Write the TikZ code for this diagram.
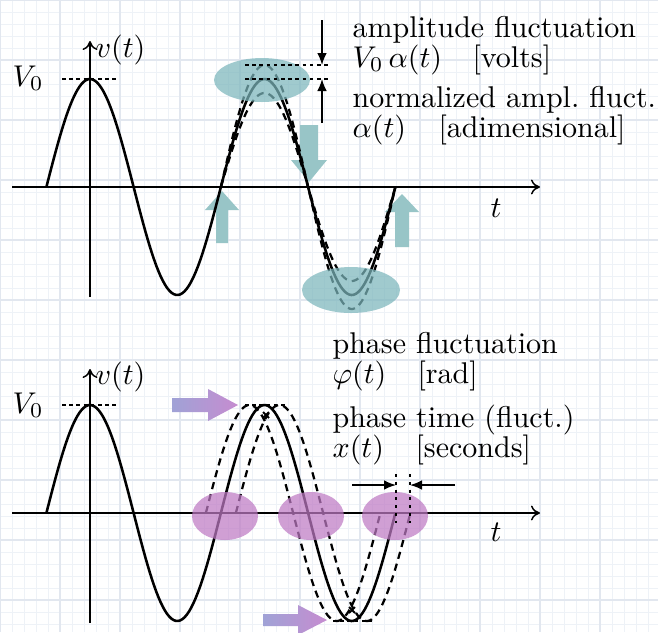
\documentclass[tikz,border=0pt]{standalone}
\usetikzlibrary{arrows.meta}
\definecolor{tealfill}{RGB}{124,182,188}
\definecolor{tealarrow}{RGB}{152,197,199}
\definecolor{purfill}{RGB}{190,122,196}
\definecolor{lavL}{RGB}{160,162,214}
\definecolor{lavR}{RGB}{198,140,208}
\definecolor{gridminor}{RGB}{238,242,247}
\definecolor{gridmajor}{RGB}{226,231,239}
\begin{document}
\begin{tikzpicture}[x=0.3333pt,y=-0.3333pt,
  axis/.style={line width=0.5pt,-{To[length=3pt,width=5pt]}},
  wave/.style={line width=0.85pt},
  dwave/.style={line width=0.75pt,dash pattern=on 2.4pt off 1.7pt},
  guide/.style={line width=0.4pt,dash pattern=on 1.2pt off 1.2pt},
  vguide/.style={line width=0.5pt,dash pattern=on 1pt off 1.6pt},
  dimarrow/.style={line width=0.5pt,-{Latex[length=4pt,width=3.2pt]}},
  lbl/.style={anchor=base west,inner sep=0pt},
  mk/.style={line width=0.6pt},
]
\useasboundingbox (0,0) rectangle (658,632);
\fill[white] (0,0) rectangle (658,632);
% grid paper
\foreach \g in {0,12,...,660} {
  \draw[gridminor,line width=0.3pt] (\g,0) -- (\g,632);
  \draw[gridminor,line width=0.3pt] (0,\g) -- (658,\g);
}
\foreach \g in {0,60,...,660} {
  \draw[gridmajor,line width=0.35pt] (\g,0) -- (\g,632);
  \draw[gridmajor,line width=0.35pt] (0,\g) -- (658,\g);
}

% ================= TOP PANEL =================
% teal block arrows
\fill[tealarrow] (216,243) -- (216,210) -- (205,210) -- (222,191) -- (239,210) -- (228,210) -- (228,243) -- cycle;
\fill[tealarrow] (300,125) -- (300,160) -- (291,160) -- (309,182) -- (327,160) -- (318,160) -- (318,125) -- cycle;
\fill[tealarrow] (395,247) -- (395,212) -- (385,212) -- (402,194) -- (419,212) -- (409,212) -- (409,247) -- cycle;

% axes
\coordinate (tx0) at (12,187);
\coordinate (tx1) at (540,187);
\coordinate (ty0) at (90,297);
\coordinate (ty1) at (90,41);
\draw[axis] (tx0) -- (tx1);
\draw[axis] (ty0) -- (ty1);
\node[lbl] (tvt) at (95,57) {$v(t)$};
\node[lbl] (tV0) at (12,86) {$V_0$};
\node[lbl] (tt) at (490,217) {$t$};
\coordinate (tg0) at (62,79);
\coordinate (tg1) at (118,79);
\draw[guide] (tg0) -- (tg1);

% waves
\draw[wave] plot[domain=46.4:395.4,samples=160] (\x,{187-108*cos(2.06304*(\x-90))});
\draw[dwave] plot[domain=220.9:395.4,samples=100] (\x,{187-122*cos(2.06304*(\x-90))});
\draw[dwave] plot[domain=220.9:395.4,samples=100] (\x,{187-94*cos(2.06304*(\x-90))});

% teal ellipses
\fill[tealfill,opacity=0.72] (262,80) ellipse [x radius=48,y radius=22];
\fill[tealfill,opacity=0.72] (351,290) ellipse [x radius=49,y radius=23];

% amplitude guides
\coordinate (ag0) at (245,65);
\coordinate (ag1) at (328,65);
\coordinate (ag2) at (245,79);
\coordinate (ag3) at (328,79);
\draw[guide] (ag0) -- (ag1);
\draw[guide] (ag2) -- (ag3);
\coordinate (ad0) at (322,20);
\coordinate (ad1) at (322,65);
\coordinate (ad2) at (322,123);
\coordinate (ad3) at (322,79);
\draw[dimarrow] (ad0) -- (ad1);
\draw[dimarrow] (ad2) -- (ad3);

% top texts
\node[lbl] (ta1) at (352,37) {amplitude fluctuation};
\node[lbl] (ta2) at (352,67) {$V_0\,\alpha(t)$};
\node[lbl] (ta3) at (472,67) {[volts]};
\node[lbl] (ta4) at (352,107) {normalized ampl.\ fluct.};
\node[lbl] (ta5) at (352,137) {$\alpha(t)$};
\node[lbl] (ta6) at (438,137) {[adimensional]};

% ================= BOTTOM PANEL =================
\coordinate (bx0) at (12,513);
\coordinate (bx1) at (540,513);
\coordinate (by0) at (90,623);
\coordinate (by1) at (90,369);
\draw[axis] (bx0) -- (bx1);
\draw[axis] (by0) -- (by1);
\node[lbl] (bvt) at (95,384) {$v(t)$};
\node[lbl] (bV0) at (12,413) {$V_0$};
\node[lbl] (bt) at (490,541) {$t$};
\coordinate (bg0) at (62,405);
\coordinate (bg1) at (118,405);
\draw[guide] (bg0) -- (bg1);

% waves
\draw[wave] plot[domain=46.4:395.4,samples=160] (\x,{513-108*cos(2.06304*(\x-90))});
\draw[dwave] plot[domain=205.9:380.4,samples=100] (\x,{513-108*cos(2.06304*(\x-75))});
\draw[dwave] plot[domain=235.9:410.4,samples=100] (\x,{513-108*cos(2.06304*(\x-105))});

% peak guides and marks
\coordinate (pg0) at (245,405);
\coordinate (pg1) at (285,405);
\coordinate (pg2) at (333,621);
\coordinate (pg3) at (372,621);
\draw[guide] (pg0) -- (pg1);
\draw[guide] (pg2) -- (pg3);
\draw[mk] (263,412) -- (269,418) (263,418) -- (269,412);
\draw[mk] (349,607) -- (355,613) (349,613) -- (355,607);

% purple ellipses
\fill[purfill,opacity=0.72] (225,516) ellipse [x radius=33,y radius=24];
\fill[purfill,opacity=0.72] (311,516) ellipse [x radius=33,y radius=24];
\fill[purfill,opacity=0.72] (395,516) ellipse [x radius=33,y radius=24];

% lavender block arrows
\shade[left color=lavL,right color=lavR] (172,398) -- (208,398) -- (208,389) -- (238,405) -- (208,421) -- (208,412) -- (172,412) -- cycle;
\shade[left color=lavL,right color=lavR] (263,614) -- (298,614) -- (298,605) -- (327,620) -- (298,635) -- (298,626) -- (263,626) -- cycle;

% phase time markers
\coordinate (vg0) at (396,474);
\coordinate (vg1) at (396,523);
\coordinate (vg2) at (410,474);
\coordinate (vg3) at (410,523);
\draw[vguide] (vg0) -- (vg1);
\draw[vguide] (vg2) -- (vg3);
\coordinate (ph0) at (352,485);
\coordinate (ph1) at (396,485);
\coordinate (ph2) at (455,485);
\coordinate (ph3) at (410,485);
\draw[dimarrow] (ph0) -- (ph1);
\draw[dimarrow] (ph2) -- (ph3);

% bottom texts
\node[lbl] (tb1) at (332,353) {phase fluctuation};
\node[lbl] (tb2) at (332,383) {$\varphi(t)$};
\node[lbl] (tb3) at (417,383) {[rad]};
\node[lbl] (tb4) at (332,427) {phase time (fluct.)};
\node[lbl] (tb5) at (332,457) {$x(t)$};
\node[lbl] (tb6) at (415,457) {[seconds]};
\end{tikzpicture}
\end{document}
